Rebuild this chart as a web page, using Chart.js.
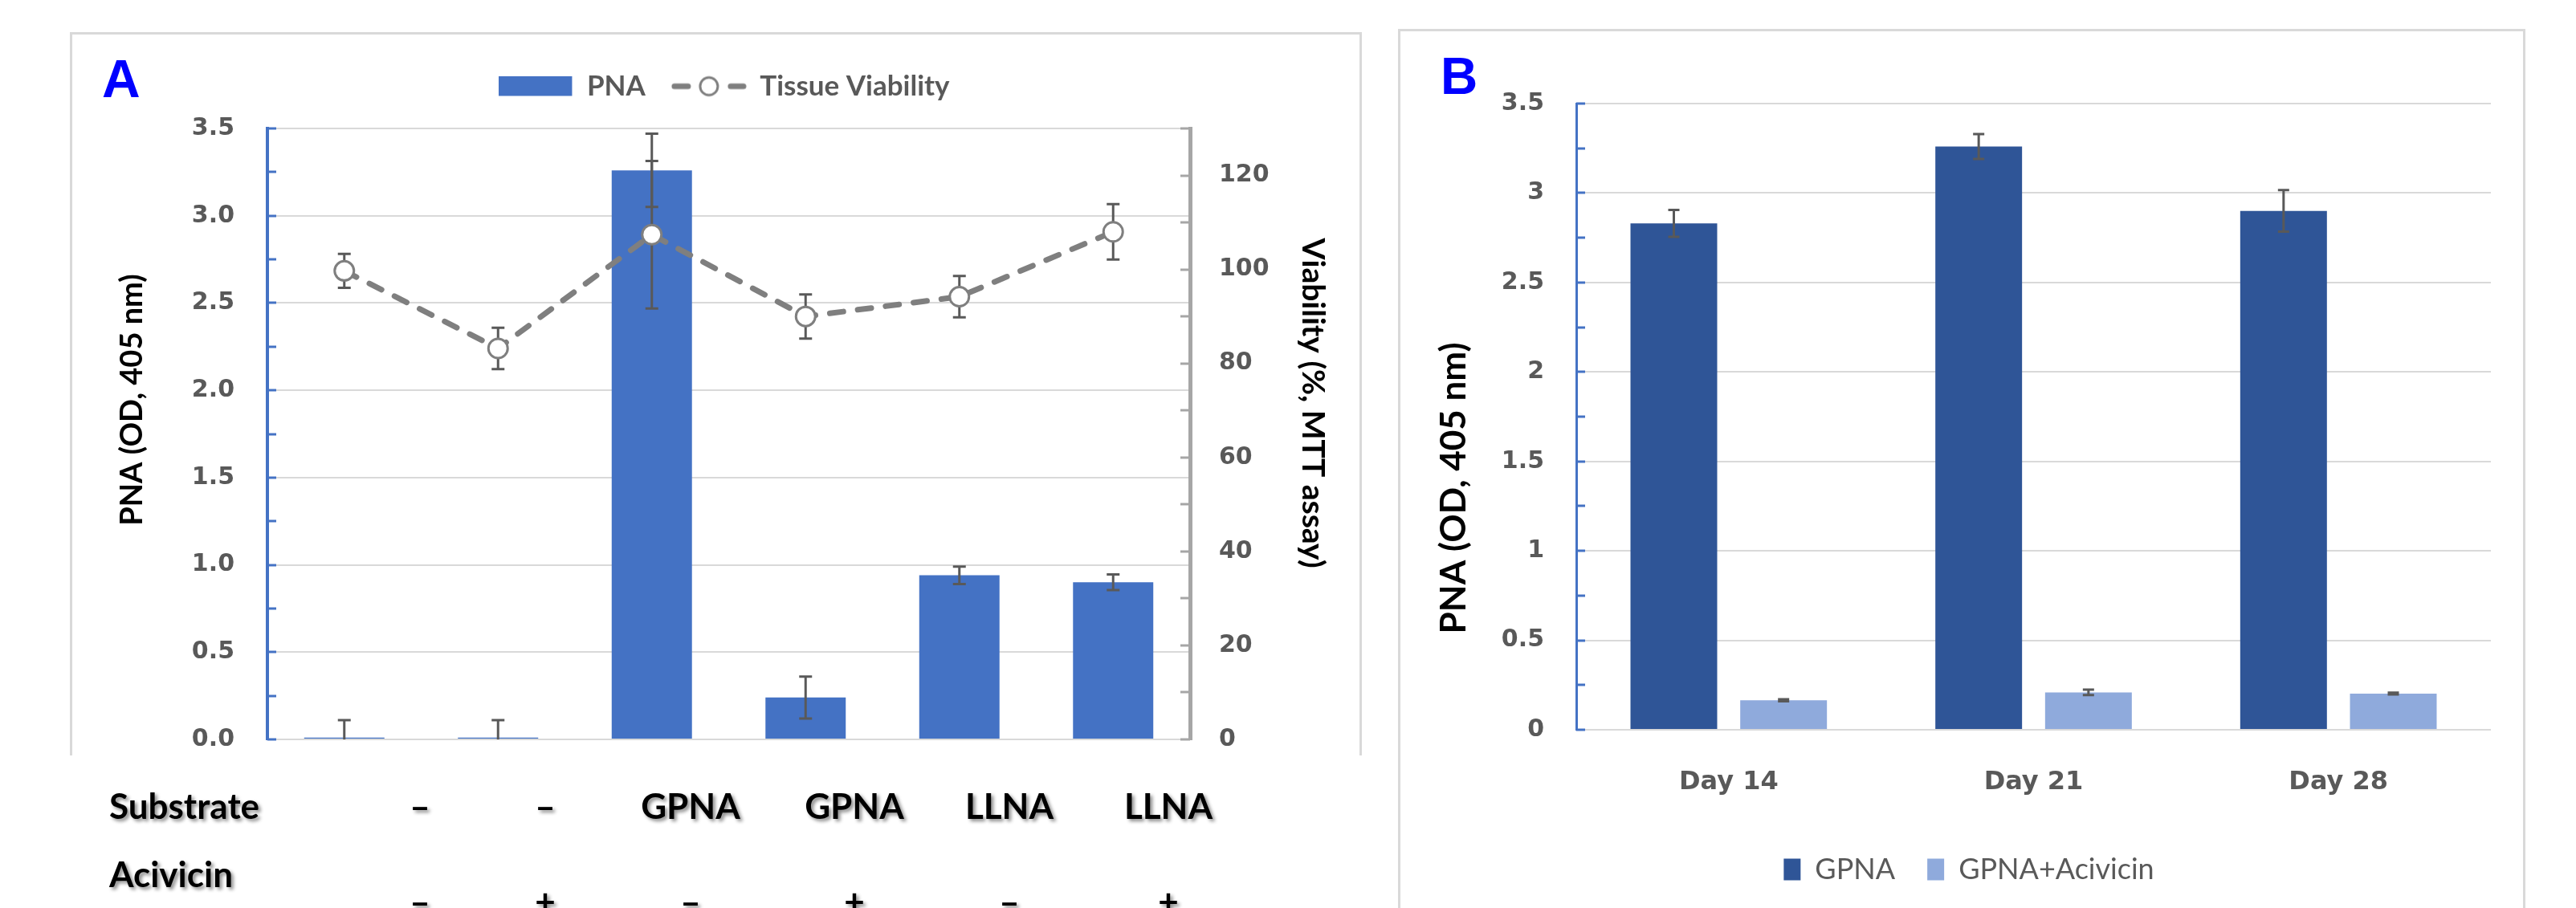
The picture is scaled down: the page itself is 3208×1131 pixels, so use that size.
<!DOCTYPE html>
<html>
<head>
<meta charset="utf-8">
<script src="https://cdn.jsdelivr.net/npm/chart.js@4.4.1/dist/chart.umd.min.js"></script>
<style>
  html, body { margin: 0; padding: 0; background: #ffffff; }
  body { width: 3208px; height: 1131px; position: relative; overflow: hidden; }
  .panel { position: absolute; border: 3px solid #d9d9d9; border-bottom: none; box-sizing: border-box; }
  #boxA { left: 87px; top: 40px; width: 1609px; height: 901px; }
  #boxB { left: 1741px; top: 36px; width: 1404px; height: 1110px; }
  .wrap { position: absolute; top: 0; }
  #wrapA { left: 0; width: 1700px; height: 1131px; }
  #wrapB { left: 1743px; width: 1402px; height: 1131px; }
  .panelLabel { position: absolute; font-family: 'Liberation Sans', Arial, sans-serif; font-weight: bold; color: #0000ff; line-height: 1; }
  .cell { position: absolute; font-family: Lato, 'Open Sans', sans-serif; font-weight: bold; color: #000; font-size: 44px; line-height: 1; white-space: nowrap; text-shadow: 3px 3px 4px rgba(0,0,0,0.45); }
  .center { transform: translateX(-50%); }
</style>
</head>
<body>
<div class="panel" id="boxA"></div>
<div class="panel" id="boxB"></div>
<div class="wrap" id="wrapA"><canvas id="cA" width="1700" height="1131"></canvas></div>
<div class="wrap" id="wrapB"><canvas id="cB" width="1402" height="1131"></canvas></div>
<div class="panelLabel" style="left:127px; top:65px; font-size:66px;">A</div>
<div class="panelLabel" style="left:1794px; top:63px; font-size:64px;">B</div>
<div id="table"></div>
<script>
// ---------------- DATA ----------------
// Panel A
const categoriesA = ['Substrate – / Acivicin –', 'Substrate – / Acivicin +', 'GPNA / –', 'GPNA / +', 'LLNA / –', 'LLNA / +'];
const substrateRow = ['–', '–', 'GPNA', 'GPNA', 'LLNA', 'LLNA'];
const acivicinRow = ['–', '+', '–', '+', '–', '+'];
const pnaValues = [0.01, 0.01, 3.26, 0.24, 0.94, 0.90];
const pnaErrors = [0.10, 0.10, 0.21, 0.12, 0.05, 0.045];
const viabilityValues = [99.7, 83.2, 107.4, 90.0, 94.2, 108.0];
const viabilityErrors = [3.6, 4.4, 15.7, 4.7, 4.4, 5.9];
// Panel B
const daysB = ['Day 14', 'Day 21', 'Day 28'];
const gpnaValues = [2.83, 3.26, 2.90];
const gpnaErrors = [0.075, 0.07, 0.116];
const gpnaAcivicinValues = [0.165, 0.209, 0.202];
const gpnaAcivicinErrors = [0.006, 0.015, 0.005];

// ---------------- LAYOUT / STYLE ----------------
const TABLE_LABEL_X = 136;
const TABLE_COL_X = [523, 679, 860, 1064, 1257, 1455];
const ROW1_TOP = 981, ROW2_LABEL_TOP = 1066, ROW2_SIGN_TOP = 1100;
const TICK_FONT = { family: "'DejaVu Sans', Verdana, sans-serif", weight: 'bold', size: 30 };
const XTICK_FONT = { family: "'DejaVu Sans', Verdana, sans-serif", weight: 'bold', size: 32 };
const GRAY_TEXT = '#595959';

Chart.defaults.animation = false;
Chart.defaults.devicePixelRatio = 1;

// table under panel A (text boxes)
(function buildTable() {
  const t = document.getElementById('table');
  const add = (txt, x, y, center) => {
    const d = document.createElement('div');
    d.className = 'cell' + (center ? ' center' : '');
    d.style.left = x + 'px'; d.style.top = y + 'px';
    d.textContent = txt; t.appendChild(d);
  };
  add('Substrate', TABLE_LABEL_X, ROW1_TOP, false);
  add('Acivicin', TABLE_LABEL_X, ROW2_LABEL_TOP, false);
  substrateRow.forEach((s, i) => add(s, TABLE_COL_X[i], ROW1_TOP, true));
  acivicinRow.forEach((s, i) => add(s, TABLE_COL_X[i], ROW2_SIGN_TOP, true));
})();

// ---------------- PLUGINS ----------------
function drawErrorBars(chart, meta, ds, style) {
  if (!ds.errors) return;
  const ctx = chart.ctx, ys = chart.scales[meta.yAxisID], area = chart.chartArea;
  ctx.save();
  ctx.beginPath();
  ctx.rect(area.left, area.top - 2, area.right - area.left, area.bottom - area.top + 2);
  ctx.clip();
  ctx.strokeStyle = style.color; ctx.lineWidth = style.width; ctx.lineCap = 'butt';
  meta.data.forEach((el, i) => {
    const v = ds.data[i], e = ds.errors[i];
    const x = el.x, yT = ys.getPixelForValue(v + e), yB = ys.getPixelForValue(v - e);
    ctx.beginPath();
    ctx.moveTo(x, yT); ctx.lineTo(x, yB);
    ctx.moveTo(x - style.cap, yT); ctx.lineTo(x + style.cap, yT);
    ctx.moveTo(x - style.cap, yB); ctx.lineTo(x + style.cap, yB);
    ctx.stroke();
  });
  ctx.restore();
}
function makeErrorBarPlugin(style) {
  return {
    id: 'errorBars',
    beforeDatasetDraw(chart, args) {
      const ds = chart.data.datasets[args.index];
      if (ds.errorBelow) drawErrorBars(chart, args.meta, ds, style);
    },
    afterDatasetDraw(chart, args) {
      const ds = chart.data.datasets[args.index];
      if (!ds.errorBelow) drawErrorBars(chart, args.meta, ds, style);
    }
  };
}
function makeTickMarksPlugin(marks) {
  return {
    id: 'tickMarks',
    afterDraw(chart) {
      const ctx = chart.ctx;
      marks.forEach(m => {
        const s = chart.scales[m.axis];
        const x0 = m.dir > 0 ? s.right : s.left;
        ctx.save();
        ctx.strokeStyle = m.color; ctx.lineWidth = m.width;
        for (let v = s.min; v <= s.max + 1e-9; v += m.step) {
          const y = Math.round(s.getPixelForValue(v));
          ctx.beginPath(); ctx.moveTo(x0, y); ctx.lineTo(x0 + m.dir * m.length, y); ctx.stroke();
        }
        ctx.restore();
      });
    }
  };
}
function makeTitlesPlugin(items) {
  return {
    id: 'axisTitles',
    afterDraw(chart) {
      const ctx = chart.ctx;
      items.forEach(t => {
        ctx.save();
        ctx.translate(t.x, t.y);
        ctx.rotate(t.rot);
        ctx.font = t.font;
        ctx.fillStyle = t.color;
        ctx.textAlign = 'center'; ctx.textBaseline = 'middle';
        ctx.fillText(t.text, 0, 0);
        ctx.restore();
      });
    }
  };
}

// legend swatches for panel A
function swatchBar() {
  const c = document.createElement('canvas'); c.width = 92; c.height = 26;
  const g = c.getContext('2d'); g.fillStyle = '#4472c4'; g.fillRect(0, 0, 91, 25); return c;
}
function swatchLine() {
  const c = document.createElement('canvas'); c.width = 94; c.height = 28;
  const g = c.getContext('2d');
  g.strokeStyle = '#7f7f7f'; g.lineWidth = 7; g.lineCap = 'round';
  g.beginPath(); g.moveTo(4, 14); g.lineTo(21, 14); g.moveTo(74, 14); g.lineTo(90, 14); g.stroke();
  g.beginPath(); g.arc(47, 14, 11, 0, Math.PI * 2);
  g.fillStyle = '#ffffff'; g.fill(); g.lineWidth = 3; g.stroke();
  return c;
}

// ---------------- PANEL A ----------------
new Chart(document.getElementById('cA'), {
  data: {
    labels: categoriesA,
    datasets: [
      { type: 'bar', label: 'PNA', data: pnaValues, errors: pnaErrors, yAxisID: 'y', xAxisID: 'x', order: 2,
        backgroundColor: '#4472c4', barPercentage: 0.522, categoryPercentage: 1.0 },
      { type: 'line', label: 'Tissue Viability', data: viabilityValues, errors: viabilityErrors, errorBelow: true,
        yAxisID: 'y1', xAxisID: 'x', order: 1, borderColor: '#7f7f7f', borderWidth: 7, borderDash: [17, 18],
        borderCapStyle: 'round', tension: 0, pointRadius: 12, pointBorderWidth: 3,
        pointBackgroundColor: '#ffffff', pointBorderColor: '#7f7f7f', fill: false }
    ]
  },
  options: {
    responsive: false,
    layout: { padding: { left: 114, right: 10, top: 57, bottom: 210 } },
    plugins: {
      tooltip: { enabled: false },
      legend: {
        position: 'top',
        labels: {
          usePointStyle: true, pointStyleWidth: 92, padding: 33, color: GRAY_TEXT,
          font: { family: "Lato, 'Open Sans', sans-serif", weight: 'bold', size: 35 },
          generateLabels: () => [
            { text: 'PNA', pointStyle: swatchBar(), fillStyle: '#4472c4', strokeStyle: '#4472c4', lineWidth: 0, hidden: false, datasetIndex: 0, fontColor: GRAY_TEXT },
            { text: 'Tissue Viability', pointStyle: swatchLine(), fillStyle: '#ffffff', strokeStyle: '#7f7f7f', lineWidth: 0, hidden: false, datasetIndex: 1, fontColor: GRAY_TEXT }
          ]
        }
      }
    },
    scales: {
      x: { type: 'category', display: false, offset: true },
      xTop: { type: 'category', position: 'top', labels: [''], display: true,
        grid: { display: false, drawTicks: false }, border: { display: false }, ticks: { display: false },
        afterFit(s) { s.height = 25; } },
      y: { position: 'left', min: 0, max: 3.5,
        afterFit(s) { s.width = 219; },
        ticks: { stepSize: 0.5, padding: 41, color: GRAY_TEXT, font: TICK_FONT, callback: v => Number(v).toFixed(1) },
        grid: { color: '#d9d9d9', lineWidth: 2, drawTicks: false },
        border: { color: '#4472c4', width: 4 } },
      y1: { position: 'right', min: 0, max: 130,
        afterFit(s) { s.width = 208; },
        ticks: { stepSize: 20, includeBounds: false, padding: 36, color: GRAY_TEXT, font: TICK_FONT },
        grid: { display: false, drawTicks: false },
        border: { color: '#a6a6a6', width: 5 } }
    }
  },
  plugins: [
    makeErrorBarPlugin({ color: '#595959', width: 3, cap: 8 }),
    makeTickMarksPlugin([
      { axis: 'y', step: 0.25, length: 11, color: '#4472c4', width: 3, dir: 1 },
      { axis: 'y1', step: 10, length: 12, color: '#a6a6a6', width: 3, dir: -1 }
    ]),
    makeTitlesPlugin([
      { text: 'PNA (OD, 405 nm)', x: 165, y: 498, rot: -Math.PI / 2, font: "bold 38px Lato, 'Open Sans', sans-serif", color: '#000000' },
      { text: 'Viability (%, MTT assay)', x: 1635, y: 502, rot: Math.PI / 2, font: "bold 39px Lato, 'Open Sans', sans-serif", color: '#000000' }
    ])
  ]
});

// ---------------- PANEL B ----------------
new Chart(document.getElementById('cB'), {
  type: 'bar',
  data: {
    labels: daysB,
    datasets: [
      { label: 'GPNA', data: gpnaValues, errors: gpnaErrors, backgroundColor: '#2f5597',
        barPercentage: 0.79, categoryPercentage: 0.72 },
      { label: 'GPNA+Acivicin', data: gpnaAcivicinValues, errors: gpnaAcivicinErrors, backgroundColor: '#8faadc',
        barPercentage: 0.79, categoryPercentage: 0.72 }
    ]
  },
  options: {
    responsive: false,
    layout: { padding: { left: 59, right: 43, top: 129, bottom: 20 } },
    plugins: {
      tooltip: { enabled: false },
      legend: {
        position: 'bottom',
        labels: { boxWidth: 21, boxHeight: 27, padding: 40, color: GRAY_TEXT,
          font: { family: "Lato, 'Open Sans', sans-serif", size: 36 } }
      }
    },
    scales: {
      x: { grid: { display: false, drawTicks: false }, border: { display: false },
        ticks: { padding: 46, color: GRAY_TEXT, font: XTICK_FONT },
        afterFit(s) { s.height = 116; } },
      y: { min: 0, max: 3.5,
        afterFit(s) { s.width = 161; },
        ticks: { stepSize: 0.5, padding: 40, color: GRAY_TEXT, font: TICK_FONT, callback: v => String(Number(v)) },
        grid: { color: '#d9d9d9', lineWidth: 2, drawTicks: false },
        border: { color: '#4472c4', width: 3 } }
    }
  },
  plugins: [
    makeErrorBarPlugin({ color: '#595959', width: 3, cap: 7 }),
    makeTickMarksPlugin([{ axis: 'y', step: 0.25, length: 11, color: '#4472c4', width: 3, dir: 1 }]),
    makeTitlesPlugin([
      { text: 'PNA (OD, 405 nm)', x: 68, y: 608, rot: -Math.PI / 2, font: "bold 44px Lato, 'Open Sans', sans-serif", color: '#000000' }
    ])
  ]
});
</script>
</body>
</html>
